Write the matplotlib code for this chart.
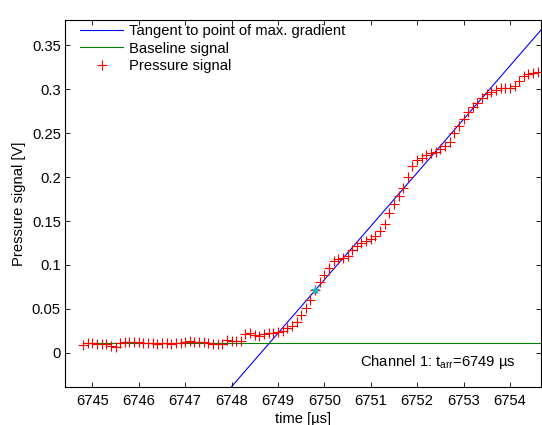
import matplotlib
matplotlib.use("Agg")
import matplotlib.pyplot as plt

plt.rcParams['font.family'] = ['Liberation Sans', 'DejaVu Sans']
plt.rcParams['font.size'] = 10.6
plt.rcParams['mathtext.fontset'] = 'custom'
plt.rcParams['mathtext.rm'] = 'Liberation Sans'

# sample times [us]
time = [6744.8, 6744.9, 6745.0, 6745.1, 6745.2, 6745.3, 6745.4, 6745.5, 6745.6, 6745.7,
        6745.8, 6745.9, 6746.0, 6746.1, 6746.2, 6746.3, 6746.4, 6746.5, 6746.6, 6746.7,
        6746.8, 6746.9, 6747.0, 6747.1, 6747.2, 6747.3, 6747.4, 6747.5, 6747.6, 6747.7,
        6747.8, 6747.9, 6748.0, 6748.1, 6748.2, 6748.3, 6748.4, 6748.5, 6748.6, 6748.7,
        6748.8, 6748.9, 6749.0, 6749.1, 6749.2, 6749.3, 6749.4, 6749.5, 6749.6, 6749.7,
        6749.8, 6749.9, 6750.0, 6750.1, 6750.2, 6750.3, 6750.4, 6750.5, 6750.6, 6750.7,
        6750.8, 6750.9, 6751.0, 6751.1, 6751.2, 6751.3, 6751.4, 6751.5, 6751.6, 6751.7,
        6751.8, 6751.9, 6752.0, 6752.1, 6752.2, 6752.3, 6752.4, 6752.5, 6752.6, 6752.7,
        6752.8, 6752.9, 6753.0, 6753.1, 6753.2, 6753.3, 6753.4, 6753.5, 6753.6, 6753.7,
        6753.8, 6753.9, 6754.0, 6754.1, 6754.2, 6754.3, 6754.4, 6754.5, 6754.6]

# pressure signal [V]
pressure = [0.0088, 0.0114, 0.0114, 0.0099, 0.0099, 0.0099, 0.0080, 0.0068, 0.0114, 0.0125,
            0.0125, 0.0125, 0.0125, 0.0114, 0.0107, 0.0107, 0.0099, 0.0107, 0.0107, 0.0099,
            0.0107, 0.0114, 0.0125, 0.0136, 0.0125, 0.0125, 0.0125, 0.0107, 0.0099, 0.0099,
            0.0099, 0.0145, 0.0130, 0.0130, 0.0130, 0.0210, 0.0224, 0.0205, 0.0190, 0.0210,
            0.0224, 0.0224, 0.0235, 0.0250, 0.0280, 0.0310, 0.0350, 0.0430, 0.0510, 0.0600,
            0.0710, 0.0810, 0.0880, 0.0970, 0.1040, 0.1070, 0.1080, 0.1100, 0.1170, 0.1220,
            0.1250, 0.1270, 0.1290, 0.1330, 0.1390, 0.1470, 0.1590, 0.1690, 0.1780, 0.1880,
            0.2000, 0.2130, 0.2190, 0.2220, 0.2250, 0.2270, 0.2290, 0.2320, 0.2350, 0.2400,
            0.2500, 0.2580, 0.2660, 0.2740, 0.2800, 0.2850, 0.2900, 0.2950, 0.2970, 0.2990,
            0.3010, 0.3010, 0.3020, 0.3040, 0.3090, 0.3150, 0.3180, 0.3190, 0.3200]

baseline = 0.0114
t_max_grad = 6749.8    # point of max. gradient
p_max_grad = 0.0710
slope = 0.0609         # V/us
t_arr = 6749

xlim = (6744.41, 6754.67)
ylim = (-0.039, 0.379)

fig = plt.figure(figsize=(5.42, 4.25), dpi=100)
ax = fig.add_axes([65 / 542, 38 / 425, 476 / 542, 367 / 425])

tx = [xlim[0], xlim[1]]
ty = [p_max_grad + slope * (t - t_max_grad) for t in tx]
ax.plot(tx, ty, color=(0, 0, 1), lw=0.8, label='Tangent to point of max. gradient')
ax.plot([time[0], xlim[1]], [baseline, baseline], color=(0, 0.5, 0), lw=0.8,
        label='Baseline signal')
ax.plot(time, pressure, '+', color='red', ms=7, mew=0.8, label='Pressure signal')
ax.plot(t_max_grad, p_max_grad, '*', color=(0.1, 0.7, 0.75), ms=6, mew=0.6)

ax.set_xlim(xlim)
ax.set_ylim(ylim)
ax.set_xticks(range(6745, 6755))
ax.set_yticks([0, 0.05, 0.1, 0.15, 0.2, 0.25, 0.3, 0.35])
ax.set_yticklabels(['0', '0.05', '0.1', '0.15', '0.2', '0.25', '0.3', '0.35'])
ax.tick_params(direction='in', top=True, right=True, length=3.5, width=0.6)
ax.tick_params(axis='y', pad=3)
ax.tick_params(axis='x', pad=5)
for s in ax.spines.values():
    s.set_linewidth(0.8)

ax.set_xlabel('time [µs]', labelpad=3)
ax.set_ylabel('Pressure signal [V]', labelpad=4)

ax.text(0.947, 0.068, 'Channel 1: t$_\\mathregular{arr}$=%d µs' % t_arr,
        transform=ax.transAxes, ha='right', va='center')

ax.legend(loc='upper left', bbox_to_anchor=(0.032, 0.988), frameon=False,
          borderpad=0, handlelength=2.9, handletextpad=0.4, labelspacing=0.22,
          borderaxespad=0)

fig.savefig('out.png', dpi=100)
